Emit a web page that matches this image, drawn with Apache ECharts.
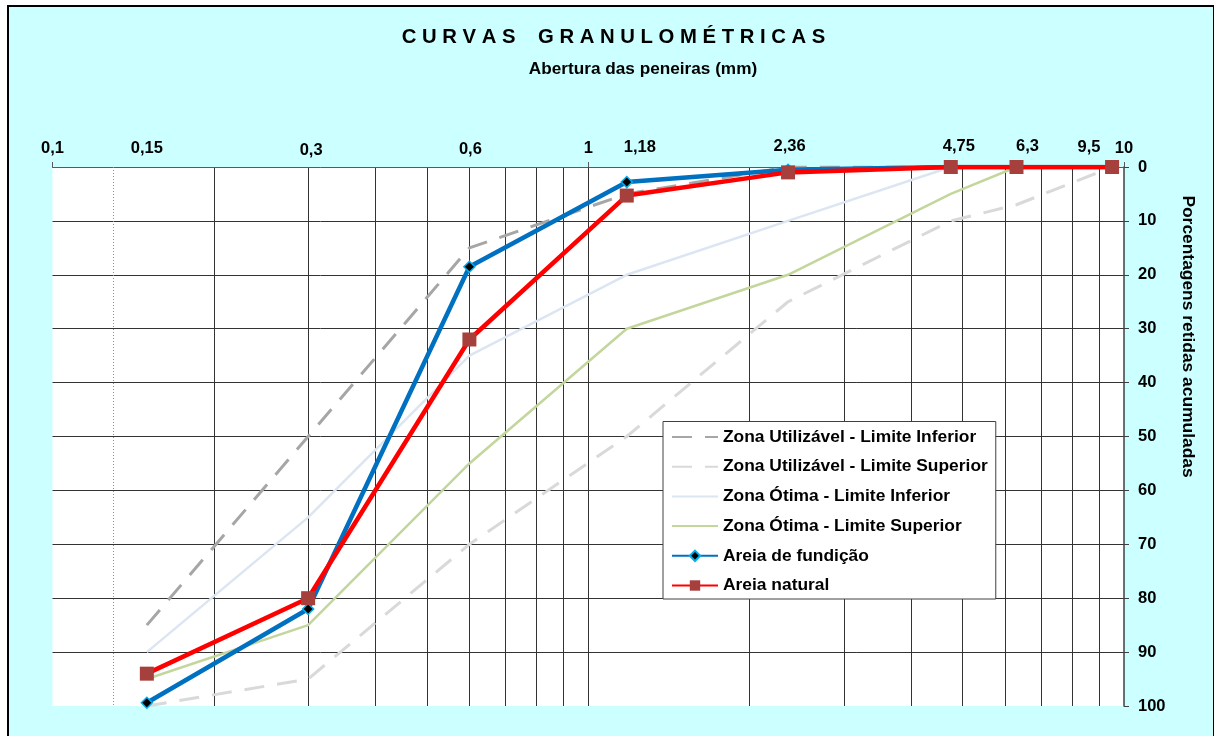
<!DOCTYPE html>
<html><head><meta charset="utf-8">
<script src="https://cdn.jsdelivr.net/npm/echarts@6/dist/echarts.min.js"></script>
<style>
html,body{margin:0;padding:0;background:#fff;width:1216px;height:736px;overflow:hidden;}
#frame{position:absolute;left:7px;top:5px;width:1207px;height:760px;box-sizing:border-box;background:#CCFFFF;border-left:2px solid #000;border-top:2px solid #000;border-right:1.5px solid #000;}
#chart{position:absolute;left:0;top:0;width:1216px;height:736px;}
</style></head><body>
<div id="frame"></div><div id="chart"></div>
<script>
// ---- data ----
const sieves = [0.15, 0.3, 0.6, 1.18, 2.36, 4.75, 6.3, 9.5];
const zonaUtilizavelInferior = [85, 50, 15, 5, 0, 0, 0, 0];
const zonaUtilizavelSuperior = [100, 95, 70, 50, 25, 10, 7, 0];
const zonaOtimaInferior = [90, 65, 35, 20, 10, 0, 0, 0];
const zonaOtimaSuperior = [95, 85, 55, 30, 20, 5, 0, 0];
const areiaFundicao = [99.4, 82, 18.5, 2.8, 0.5, 0, 0, 0];
const areiaNatural = [94, 80, 32, 5.3, 1, 0, 0, 0];
const seriesNames = ['Zona Utilizável - Limite Inferior', 'Zona Utilizável - Limite Superior',
  'Zona Ótima - Limite Inferior', 'Zona Ótima - Limite Superior', 'Areia de fundição', 'Areia natural'];
const xTickValues = [0.1, 0.15, 0.3, 0.6, 1, 1.18, 2.36, 4.75, 6.3, 9.5, 10];
const xTickLabels = ['0,1', '0,15', '0,3', '0,6', '1', '1,18', '2,36', '4,75', '6,3', '9,5', '10'];
const xGridValues = [0.2, 0.3, 0.4, 0.5, 0.6, 0.7, 0.8, 0.9, 1, 2, 3, 4, 5, 6, 7, 8, 9];
const xMajorTicks = [0.1, 1, 10];
const titleText = 'CURVAS GRANULOMÉTRICAS';
const subtitleText = 'Abertura das peneiras (mm)';
const yAxisTitle = 'Porcentagens retidas acumuladas';

// ---- styles ----
const FONT = 'Liberation Sans, Arial, sans-serif';
// per-label nudges [dx, dy] (px) as in the original figure
const labelShift = [[0,0],[0,0],[3,4],[1,2],[0,0],[13,-1],[1.5,-4],[8,-3],[11,-4],[-23,-2],[0,0]];
const rich = {};
xTickLabels.forEach((t, i) => {
  const [dx, dy] = labelShift[i];
  rich['t' + i] = {
    fontFamily: FONT, fontSize: 16.5, fontWeight: 'bold', color: '#000', lineHeight: 16,
    padding: [0, dx < 0 ? -2 * dx : 0, 4 - dy, dx > 0 ? 2 * dx : 0]
  };
});
function labelFormatter(v) {
  let k = 0;
  for (let i = 0; i < xTickValues.length; i++) if (Math.abs(xTickValues[i] - v) < 1e-9) k = i;
  return '{t' + k + '|' + xTickLabels[k] + '}';
}
function pairs(ys) { return sieves.map((x, i) => [x, ys[i]]); }
const spaced = s => s.split(' ').map(w => w.split('').join(' ')).join('    ');
const noMarker = {opacity: 0};
// last label (axis end) is drawn by the second axis so the two close labels don't hide each other
const labelsMain = xTickValues.slice(0, -1);
const labelsEnd = xTickValues.slice(-1);

const chart = echarts.init(document.getElementById('chart'), null, {renderer: 'canvas'});
chart.setOption({
  backgroundColor: 'transparent',
  animation: false,
  textStyle: {fontFamily: FONT},
  grid: {left: 52.5, right: 92, top: 167, bottom: 30, show: true, backgroundColor: '#fff', borderWidth: 0, containLabel: false},
  xAxis: [{
    type: 'log', logBase: 10, min: 0.1, max: 10, position: 'top',
    axisLine: {show: true, lineStyle: {color: '#595959', width: 1}},
    axisTick: {show: true, inside: false, length: 5, customValues: xMajorTicks, lineStyle: {color: '#595959', width: 1}},
    axisLabel: {
      show: true, margin: 9, customValues: labelsMain, rich: rich,
      showMinLabel: true, showMaxLabel: true, hideOverlap: false, formatter: labelFormatter
    },
    splitLine: {show: false}
  }, {
    type: 'log', logBase: 10, min: 0.1, max: 10, position: 'top',
    axisLine: {show: false},
    axisTick: {show: false, customValues: xGridValues},
    axisLabel: {
      show: true, margin: 9, customValues: labelsEnd, rich: rich,
      showMinLabel: true, showMaxLabel: true, hideOverlap: false, formatter: labelFormatter
    },
    splitLine: {show: true, lineStyle: {color: '#333', width: 1}}
  }],
  yAxis: {
    type: 'value', inverse: true, min: 0, max: 100, interval: 10, position: 'right',
    axisLine: {show: true, lineStyle: {color: '#404040', width: 1.5}},
    axisTick: {show: true, inside: false, length: 5, lineStyle: {color: '#404040', width: 1}},
    axisLabel: {margin: 14, fontSize: 16.5, fontWeight: 'bold', color: '#000', fontFamily: FONT},
    splitLine: {show: true, showMinLine: false, showMaxLine: false, lineStyle: {color: '#333', width: 1}}
  },
  legend: {
    orient: 'vertical', left: 663, top: 421.5,
    backgroundColor: '#fff', borderColor: '#404040', borderWidth: 1, borderRadius: 0,
    padding: [7, 8, 5, 8], itemGap: 12.7, itemWidth: 46, itemHeight: 13,
    textStyle: {fontFamily: FONT, fontSize: 17.4, fontWeight: 'bold', color: '#000'},
    data: [
      {name: seriesNames[0], itemStyle: noMarker},
      {name: seriesNames[1], itemStyle: noMarker},
      {name: seriesNames[2], itemStyle: noMarker},
      {name: seriesNames[3], itemStyle: noMarker},
      {name: seriesNames[4]},
      {name: seriesNames[5]}
    ]
  },
  graphic: [
    {type: 'text', x: 613.5, y: 37.5, silent: true, style: {text: spaced(titleText), fontFamily: FONT, fontSize: 20.3, fontWeight: 'bold', fill: '#000', textAlign: 'center', textVerticalAlign: 'middle'}},
    {type: 'text', x: 643, y: 69, silent: true, style: {text: subtitleText, fontFamily: FONT, fontSize: 17.2, fontWeight: 'bold', fill: '#000', textAlign: 'center', textVerticalAlign: 'middle'}},
    {type: 'text', x: 1188, y: 336.5, rotation: -Math.PI / 2, silent: true, style: {text: yAxisTitle, fontFamily: FONT, fontSize: 17.4, fontWeight: 'bold', fill: '#000', textAlign: 'center', textVerticalAlign: 'middle'}}
  ],
  series: [
    {name: seriesNames[0], type: 'line', data: pairs(zonaUtilizavelInferior), symbol: 'none', color: '#A6A6A6',
     lineStyle: {color: '#A6A6A6', width: 3, type: [20, 13]},
     markLine: {silent: true, symbol: 'none', label: {show: false}, lineStyle: {color: '#909090', width: 1, type: [1, 2]}, data: [{xAxis: 0.1323}]}},
    {name: seriesNames[1], type: 'line', data: pairs(zonaUtilizavelSuperior), symbol: 'none', color: '#D9D9D9',
     lineStyle: {color: '#D9D9D9', width: 3, type: [20, 13]}},
    {name: seriesNames[2], type: 'line', data: pairs(zonaOtimaInferior), symbol: 'none', color: '#DCE6F2',
     lineStyle: {color: '#DCE6F2', width: 2.5}},
    {name: seriesNames[3], type: 'line', data: pairs(zonaOtimaSuperior), symbol: 'none', color: '#C3D69B',
     lineStyle: {color: '#C3D69B', width: 2.5}},
    {name: seriesNames[4], type: 'line', data: pairs(areiaFundicao), symbol: 'diamond', symbolSize: 11, color: '#0070C0',
     lineStyle: {color: '#0070C0', width: 4.5},
     itemStyle: {color: '#000', borderColor: '#00B0F0', borderWidth: 1.5}},
    {name: seriesNames[5], type: 'line', data: pairs(areiaNatural), symbol: 'rect', symbolSize: 14, color: '#FF0000',
     lineStyle: {color: '#FF0000', width: 4.5},
     itemStyle: {color: '#A5403C', borderWidth: 0}}
  ]
});
</script>
</body></html>
